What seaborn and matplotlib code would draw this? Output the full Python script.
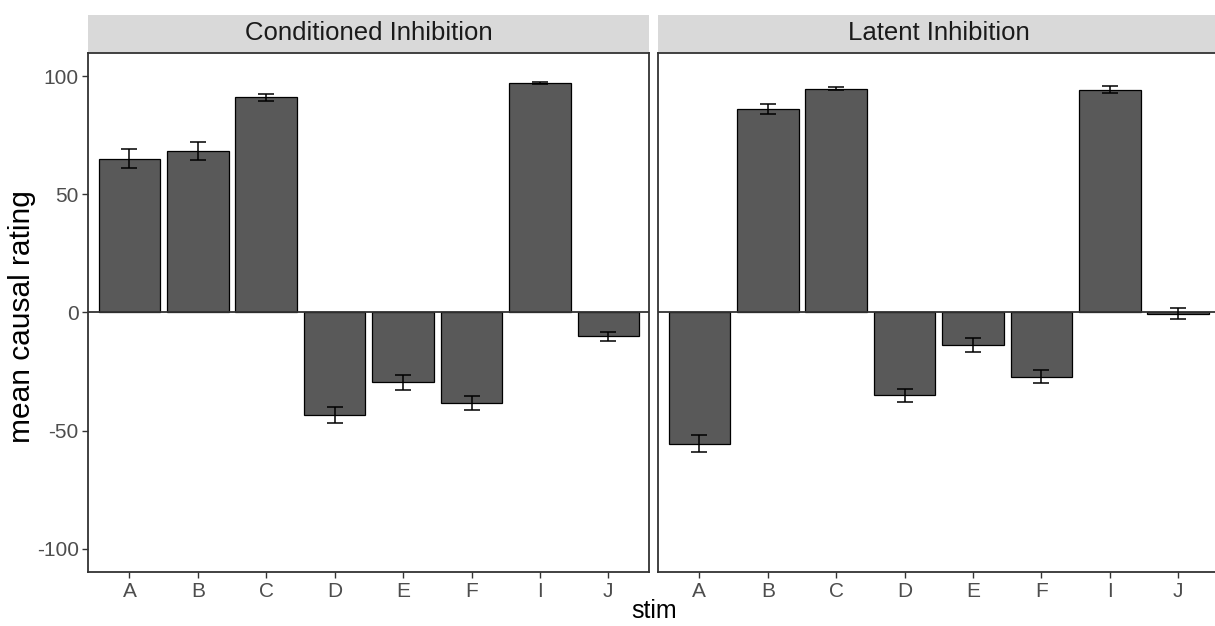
import pandas as pd
import seaborn as sns
import matplotlib.pyplot as plt
from matplotlib.patches import Rectangle

# data
stims = ['A', 'B', 'C', 'D', 'E', 'F', 'I', 'J']
ci_mean = [65.1, 68.5, 91.1, -43.4, -29.5, -38.4, 97.3, -10.1]
ci_se = [4.0, 3.8, 1.4, 3.5, 3.2, 3.0, 0.5, 1.9]
li_mean = [-55.5, 86.2, 94.7, -35.0, -13.8, -27.1, 94.4, -0.6]
li_se = [3.5, 2.0, 0.7, 2.7, 2.8, 2.7, 1.3, 2.3]
panels = ['Conditioned Inhibition', 'Latent Inhibition']

sns.set_style('white')
plt.rcParams['font.family'] = ['Liberation Sans', 'DejaVu Sans']
plt.rcParams['axes.unicode_minus'] = False

fig = plt.figure(figsize=(12.15, 6.26), dpi=100)

ax_w = 561 / 1215
ax_b = (626 - 572.3) / 626
ax_h = 519.6 / 626
lefts = [88.4 / 1215, 658.3 / 1215]

for i, (title, means, errs) in enumerate(zip(panels, [ci_mean, li_mean], [ci_se, li_se])):
    ax = fig.add_axes([lefts[i], ax_b, ax_w, ax_h])
    df = pd.DataFrame({'stim': stims, 'mean': means, 'se': errs})
    sns.barplot(data=df, x='stim', y='mean', ax=ax, color='#595959', saturation=1,
                edgecolor='black', linewidth=0.9, width=0.9, errorbar=None, zorder=2)
    ax.errorbar(range(len(stims)), df['mean'], yerr=df['se'], fmt='none',
                ecolor='black', elinewidth=1.1, capsize=5.8, capthick=1.1, zorder=4)
    ax.axhline(0, color='#333333', lw=1.3, zorder=3)
    ax.set_xlim(-0.6, 7.6)
    ax.set_ylim(-110, 110)
    ax.set_yticks([-100, -50, 0, 50, 100])
    ax.set_xlabel('')
    ax.set_ylabel('')
    for s in ax.spines.values():
        s.set_visible(True)
        s.set_color('#333333')
        s.set_linewidth(1.3)
        s.set_zorder(5)
    ax.tick_params(axis='both', length=4, width=1, color='#333333',
                   labelsize=15, labelcolor='#4D4D4D', pad=3,
                   bottom=True, left=(i == 0))
    if i == 1:
        ax.set_yticklabels([])
    # facet strip
    strip = Rectangle((lefts[i], (626 - 52.7) / 626), ax_w, 37.7 / 626,
                      transform=fig.transFigure, facecolor='#D9D9D9',
                      edgecolor='none', zorder=-1)
    fig.patches.append(strip)
    fig.text(lefts[i] + ax_w / 2, (626 - 33.5) / 626, title, ha='center', va='center',
             fontsize=18.5, color='#1A1A1A')

fig.text(22 / 1215, (626 - 317) / 626, 'mean causal rating',
         rotation=90, ha='center', va='center', fontsize=21.5, color='black')
fig.text(654 / 1215, (626 - 611) / 626, 'stim', ha='center', va='center',
         fontsize=18, color='black')

fig.savefig('out.png', dpi=100)
